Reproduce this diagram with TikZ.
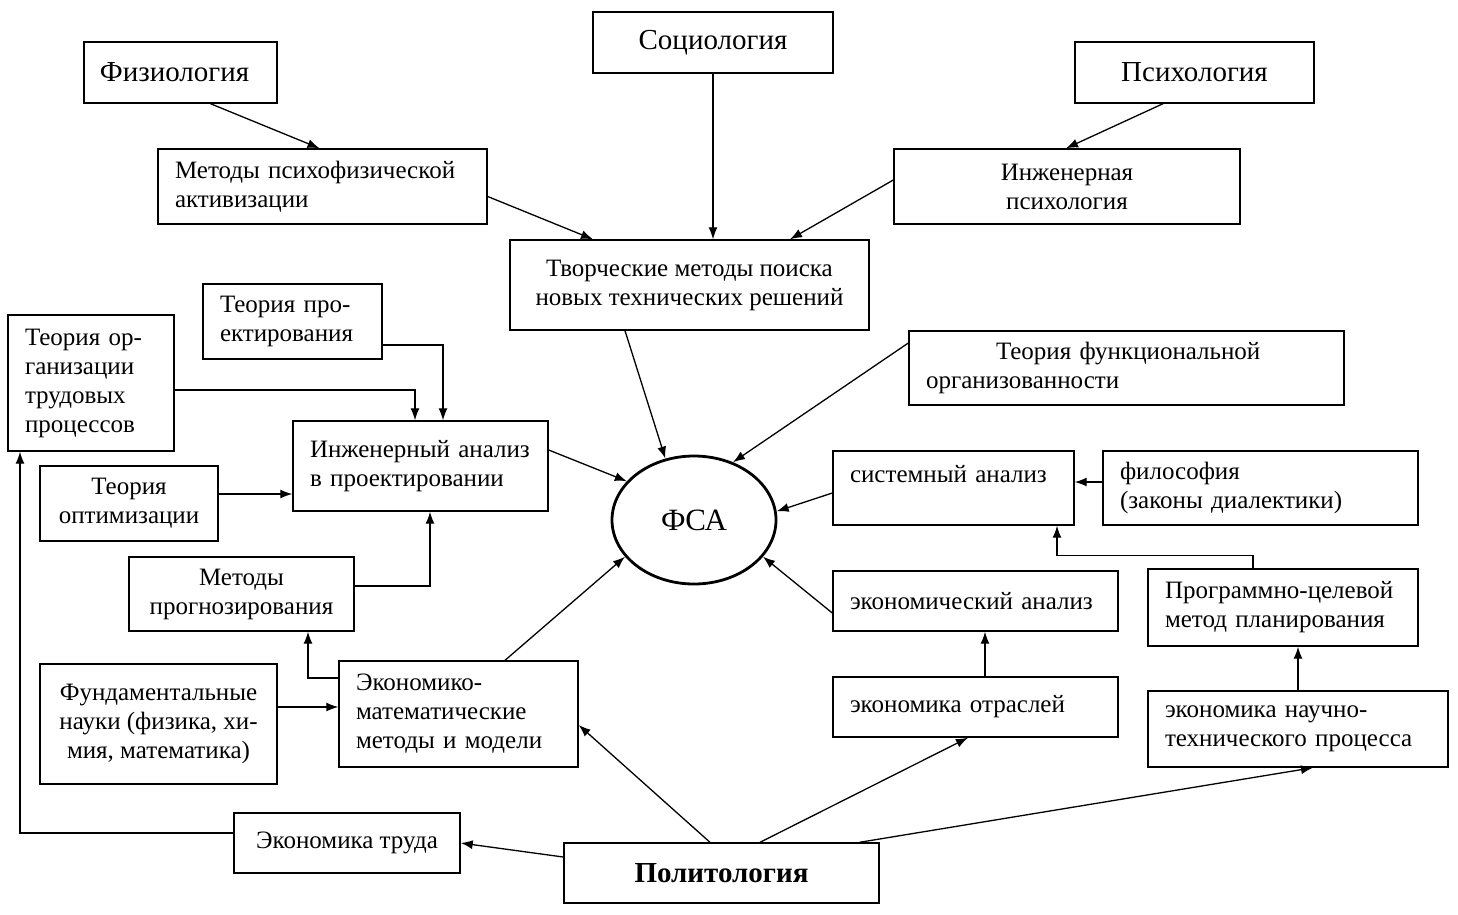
\documentclass[tikz,border=0pt]{standalone}
\usepackage{fontspec}
\setmainfont{Liberation Serif}
\usetikzlibrary{arrows.meta,shapes.geometric}
\begin{document}
\begin{tikzpicture}[x=1pt,y=-1pt,
  box/.style={draw, line width=1.4pt, inner ysep=0pt, inner xsep=0pt, font=\fontsize{25}{29}\selectfont},
  cbox/.style n args={2}{box, minimum width=#1, minimum height=#2, align=center},
  lbox/.style n args={3}{box, inner xsep=17pt, text width=#1, minimum height=#2, align=left},
  title/.style={font=\fontsize{29}{32}\selectfont},
  arr/.style={-{Latex[length=12pt,width=9pt]}, line width=1.3pt}]
\useasboundingbox (0,0) rectangle (1458,914);
\fill[white] (0,0) rectangle (1458,914);

\node[cbox={193pt}{61pt}, title] (fiz) at (180.5,72.5) {Физиология\hspace*{12pt}};
\node[cbox={240pt}{61pt}, title] (soc) at (713,42.5) {Социология};
\node[cbox={239pt}{61pt}, title] (psy) at (1194.5,72.5) {Психология};
\node[lbox={295pt}{75pt}{}] (mpf) at (322.5,186.5) {Методы психофизической\\активизации};
\node[cbox={346pt}{75pt}] (ip) at (1067,186.5) {Инженерная\\психология};
\node[cbox={359pt}{90pt}] (tvm) at (689.5,285) {Творческие методы поиска\\новых технических решений};
\node[lbox={145pt}{75pt}{}] (tpr) at (292.5,321.5) {Теория про-\\ектирования};
\node[lbox={132pt}{136pt}{}] (tot) at (91,383) {Теория ор-\\ганизации\\трудовых\\процессов};
\node[lbox={221pt}{90pt}{}] (ian) at (420.5,466) {\mbox{Инженерный анализ}\\в проектировании};
\node[lbox={401pt}{74pt}{}] (tfo) at (1126.5,368) {\hspace*{70pt}Теория функциональной\\организованности};
\node[cbox={178pt}{75pt}] (top) at (129,503.5) {Теория\\оптимизации};
\node[draw, ellipse, line width=2.8pt, minimum width=164pt, minimum height=128pt, inner sep=0pt, font=\fontsize{31}{32}\selectfont] (fsa) at (694,520) {ФСА};
\node[lbox={207pt}{74pt}{}] (sa) at (953.5,488) {системный анализ\\\mbox{}};
\node[lbox={281pt}{74pt}{}] (fil) at (1260.5,488) {философия\\(законы диалектики)};
\node[cbox={225pt}{74pt}] (mpr) at (241.5,594) {Методы\\прогнозирования};
\node[lbox={251pt}{60pt}{}] (ea) at (975.5,601) {\mbox{экономический анализ}};
\node[lbox={236pt}{77pt}{}] (pcm) at (1283,607.5) {\mbox{Программно-целевой}\\\mbox{метод планирования}};
\node[lbox={205pt}{106pt}{}] (emm) at (458.5,714) {Экономико-\\математические\\методы и модели};
\node[cbox={237pt}{120pt}] (fn) at (158.5,724) {Фундаментальные\\науки (физика, хи-\\мия, математика)};
\node[lbox={251pt}{60pt}{}] (eo) at (975.5,707) {экономика отраслей};
\node[lbox={266pt}{76pt}{}] (ent) at (1298,729) {экономика научно-\\\mbox{технического процесса}};
\node[cbox={226pt}{60pt}] (et) at (347,843) {Экономика труда};
\node[cbox={315pt}{60pt}, font=\fontsize{29}{32}\selectfont\bfseries] (pol) at (721.5,873) {Политология};

% connectors
\draw[arr] ([xshift=30pt]fiz.south) -- ([xshift=-3pt]mpf.north);
\draw[arr] ([yshift=-10pt]mpf.east) -- ([xshift=-96.5pt]tvm.north);
\draw[arr] (soc.south) -- (soc.south |- tvm.north);
\draw[arr] ([xshift=-31.5pt]psy.south) -- ([xshift=-1pt]ip.north);
\draw[arr] ([yshift=6.5pt]ip.west) -- ([xshift=100.5pt]tvm.north);
\draw[arr] ([xshift=-64.5pt]tvm.south) -- (fsa.115);
\draw[arr] ([yshift=25pt]tfo.west) -- (fsa.56);
\draw[arr] ([yshift=16pt]ian.east) -- (fsa.150);
\draw[arr] ([yshift=-5pt]sa.west) -- (fsa.6);
\draw[arr] ([yshift=-12pt]ea.west) -- (fsa.-28);
\draw[arr] ([xshift=46.5pt]emm.north) -- (fsa.208);
\draw[arr] ([yshift=-7pt]tot.east) -| ([xshift=-5.5pt]ian.north);
\draw[arr] ([yshift=-23.5pt]tpr.east) -| ([xshift=22.5pt]ian.north);
\draw[arr] ([yshift=9.5pt]top.east) -- ([yshift=9.5pt]top.east -| ian.west);
\draw[arr] ([yshift=8pt]mpr.east) -| ([xshift=9.5pt]ian.south);
\draw[arr] ([yshift=36pt]emm.west) -| ([xshift=66.5pt]mpr.south);
\draw[arr] ([yshift=17pt]fn.east) -- ([yshift=17pt]fn.east -| emm.west);
\draw[arr] ([xshift=-11.5pt]pol.north) -- ([yshift=-11pt]emm.east);
\draw[arr] ([yshift=16pt]pol.west) -- (et.east);
\draw[arr] ([yshift=10pt]et.west) -| ([xshift=-71pt]tot.south);
\draw[arr] ([xshift=38.5pt]pol.north) -- ([xshift=-7.5pt]eo.south);
\draw[arr] ([xshift=138pt]pol.north) -- ([xshift=15pt]ent.south);
\draw[arr] ([xshift=9.5pt]eo.north) -- ([xshift=9.5pt]eo.north |- ea.south);
\draw[arr] (ent.north) -- (ent.north |- pcm.south);
\draw[arr] ([xshift=-30pt]pcm.north) |- ([xshift=103.5pt,yshift=-30pt]sa.south) -- ([xshift=103.5pt]sa.south);
\draw[arr] ([yshift=6pt]fil.west) -- ([yshift=6pt]fil.west -| sa.east);
\end{tikzpicture}
\end{document}
